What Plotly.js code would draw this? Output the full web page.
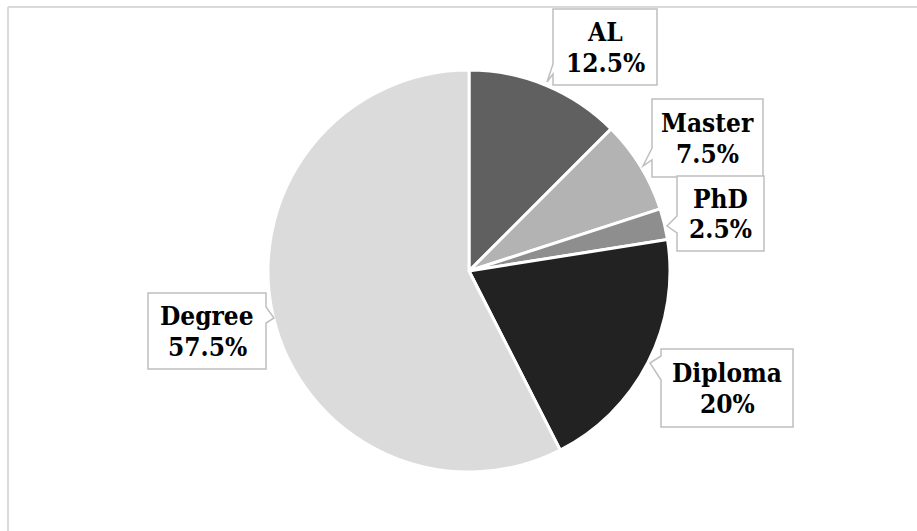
<!DOCTYPE html>
<html>
<head>
<meta charset="utf-8">
<script src="https://cdn.plot.ly/plotly-3.0.1.min.js"></script>
<style>html,body{margin:0;padding:0;background:#fff}#chart{width:917px;height:531px}</style>
</head>
<body>
<div id="chart"></div>
<script>
var categories = ["AL", "Master", "PhD", "Diploma", "Degree"];
var values = [12.5, 7.5, 2.5, 20, 57.5];
var labelsText = ["12.5%", "7.5%", "2.5%", "20%", "57.5%"];
var colors = ["#606060", "#b3b3b3", "#8e8e8e", "#222222", "#dbdbdb"];

var W = 917, H = 531;
function px(x){ return x / W; }
function py(y){ return 1 - y / H; }

var callouts = [
  {box:[553, 9, 657, 85], side:"left", b1:64, b2:74, tip:[547, 82]},
  {box:[652, 99, 763, 177], side:"left", b1:148, b2:160, tip:[643, 166]},
  {box:[677, 176, 764, 251], side:"left", b1:216, b2:233, tip:[667, 226]},
  {box:[661, 349, 793, 427], side:"left", b1:356, b2:380, tip:[650, 363]},
  {box:[148, 293, 266, 369], side:"right", b1:307, b2:323, tip:[274, 318]}
];

function calloutPath(c){
  var l=c.box[0], t=c.box[1], r=c.box[2], b=c.box[3];
  var pts;
  if (c.side === "left") {
    pts = [[l,t],[r,t],[r,b],[l,b],[l,c.b2],c.tip,[l,c.b1]];
  } else {
    pts = [[l,t],[r,t],[r,c.b1],c.tip,[r,c.b2],[r,b],[l,b]];
  }
  return "M" + pts.map(function(p){ return px(p[0]).toFixed(5) + "," + py(p[1]).toFixed(5); }).join(" L") + " Z";
}

var shapes = [
  {type:"line", xref:"paper", yref:"paper", x0:px(8), x1:px(917), y0:py(7), y1:py(7), line:{color:"#d9d9d9", width:2}},
  {type:"line", xref:"paper", yref:"paper", x0:px(8), x1:px(8), y0:py(7), y1:py(531), line:{color:"#d9d9d9", width:2}}
];
var annotations = [];
var font = {family:"'DejaVu Serif Condensed', 'DejaVu Serif', serif", size:26, color:"#000"};
callouts.forEach(function(c, i){
  shapes.push({type:"path", xref:"paper", yref:"paper", path:calloutPath(c),
    fillcolor:"#ffffff", line:{color:"#bfbfbf", width:1.5}, layer:"above"});
  var xc = (c.box[0]+c.box[2])/2, yc = (c.box[1]+c.box[3])/2;
  annotations.push({xref:"paper", yref:"paper", x:px(xc), y:py(yc - 15),
    xanchor:"center", yanchor:"middle", showarrow:false,
    text:"<b>" + categories[i] + "</b>", font:font});
  annotations.push({xref:"paper", yref:"paper", x:px(xc), y:py(yc + 16),
    xanchor:"center", yanchor:"middle", showarrow:false,
    text:"<b>" + labelsText[i] + "</b>", font:font});
});

var cx = 469, cy = 271, R = 201;
var data = [{
  type:"pie",
  labels:categories,
  values:values,
  sort:false,
  direction:"clockwise",
  rotation:0,
  textinfo:"none",
  hoverinfo:"none",
  marker:{colors:colors, line:{color:"#ffffff", width:3}},
  domain:{x:[px(cx-R), px(cx+R)], y:[py(cy+R), py(cy-R)]}
}];

var layout = {
  width:W, height:H,
  margin:{l:0, r:0, t:0, b:0, pad:0},
  paper_bgcolor:"#ffffff",
  showlegend:false,
  shapes:shapes,
  annotations:annotations
};

Plotly.newPlot("chart", data, layout, {displayModeBar:false, staticPlot:true});
</script>
</body>
</html>
